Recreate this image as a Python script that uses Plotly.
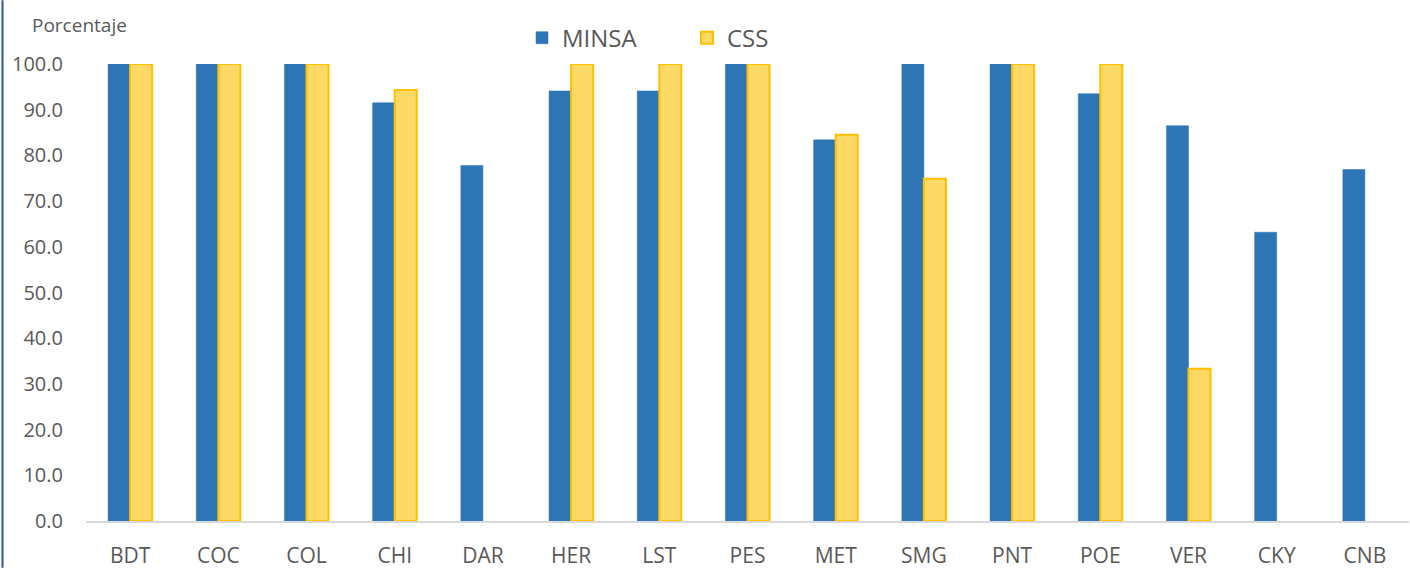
import plotly.graph_objects as go

categories = ["BDT", "COC", "COL", "CHI", "DAR", "HER", "LST", "PES", "MET", "SMG", "PNT", "POE", "VER", "CKY", "CNB"]
minsa = [100.0, 100.0, 100.0, 91.5, 77.8, 94.1, 94.1, 100.0, 83.4, 100.0, 100.0, 93.5, 86.5, 63.2, 76.9]
css = [100.0, 100.0, 100.0, 94.3, None, 100.0, 100.0, 100.0, 84.5, 74.9, 100.0, 100.0, 33.3, None, None]
y_ticks = [0, 10, 20, 30, 40, 50, 60, 70, 80, 90, 100]

W, H = 1410, 570
ML, MR, MT, MB = 86, 1, 64, 47
PW, PH = W - ML - MR, H - MT - MB

fig = go.Figure()
fig.add_trace(go.Bar(name="MINSA", x=categories, y=minsa,
                     marker=dict(color="#2e75b6", line=dict(color="#2e75b6", width=0.5))))
fig.add_trace(go.Bar(name="CSS", x=categories, y=css,
                     marker=dict(color="#ffd966", line=dict(color="#ffc000", width=2))))

fig.update_layout(
    width=W, height=H,
    margin=dict(l=ML, r=MR, t=MT, b=MB),
    paper_bgcolor="white", plot_bgcolor="white",
    barmode="group", bargap=0.5, bargroupgap=0,
    font=dict(family="Open Sans, sans-serif", size=20, color="#595959"),
    legend=dict(orientation="h", x=(522 - ML) / PW, xanchor="left",
                y=1 + (MT - 38) / PH, yanchor="middle",
                font=dict(size=24, color="#595959"), itemwidth=30,
                entrywidth=120, traceorder="normal", bgcolor="rgba(0,0,0,0)"),
    xaxis=dict(showgrid=False, showline=True, linecolor="#d9d9d9", linewidth=1.5,
               ticks="", ticklabelstandoff=15, tickfont=dict(size=21)),
    yaxis=dict(range=[0, 100], tickvals=y_ticks, tickformat=".1f", showgrid=False,
               showline=False, zeroline=False, ticks="", ticklabelstandoff=22,
               tickfont=dict(size=20)),
    annotations=[dict(text="Porcentaje", xref="paper", yref="paper",
                      x=(30 - ML) / PW, xanchor="left",
                      y=1 + (MT - 25) / PH, yanchor="middle",
                      showarrow=False, font=dict(size=19, color="#595959"))],
    shapes=[dict(type="line", xref="paper", yref="paper",
                 x0=(2.5 - ML) / PW, x1=(2.5 - ML) / PW,
                 y0=-MB / PH, y1=1 + MT / PH,
                 line=dict(color="#2f5597", width=2))],
)

fig.write_html("out.html", config={"displayModeBar": False},
               post_script="document.body.style.margin='0';")
